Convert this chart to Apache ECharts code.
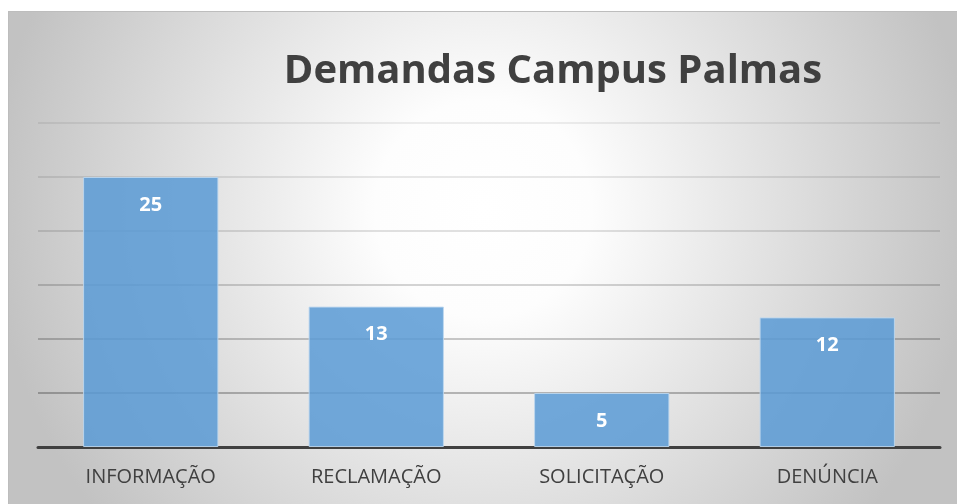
<!DOCTYPE html>
<html>
<head>
<meta charset="utf-8">
<script src="https://cdn.jsdelivr.net/npm/echarts@6/dist/echarts.min.js"></script>
<style>
  html, body { margin: 0; padding: 0; background: #fff; }
  #chart {
    position: absolute; left: 8px; top: 11px; width: 949px; height: 493px;
    border-top: 1px solid #bdbdbd; border-left: 1px solid #bdbdbd; box-sizing: border-box;
  }
</style>
</head>
<body>
<div id="chart"></div>
<script>
const categories = ['INFORMAÇÃO', 'RECLAMAÇÃO', 'SOLICITAÇÃO', 'DENÚNCIA'];
const values = [25, 13, 5, 12];
const titleText = 'Demandas Campus Palmas';

const chart = echarts.init(document.getElementById('chart'), null, { renderer: 'canvas' });

// grid lines fade toward the top, like the original
const gridColors = [
  'rgba(0,0,0,0)',
  'rgba(0,0,0,0.34)',
  'rgba(0,0,0,0.28)',
  'rgba(0,0,0,0.22)',
  'rgba(0,0,0,0.16)',
  'rgba(0,0,0,0.12)',
  'rgba(0,0,0,0.09)',
];

chart.setOption({
  backgroundColor: {
    type: 'radial', x: 0.5, y: 0.4, r: 1.0,
    colorStops: [
      { offset: 0, color: '#ffffff' },
      { offset: 0.22, color: '#fdfdfd' },
      { offset: 1, color: '#c2c2c2' },
    ],
  },
  textStyle: { fontFamily: '"Open Sans", sans-serif' },
  title: {
    text: titleText,
    left: 539,
    top: 35,
    textAlign: 'center',
    textStyle: { color: '#404040', fontSize: 40, fontWeight: 'bold', fontFamily: '"Open Sans", sans-serif' },
  },
  grid: { left: 29, right: 17, top: 111, bottom: 57, containLabel: false },
  xAxis: {
    type: 'category',
    data: categories,
    axisLine: { lineStyle: { color: '#404040', width: 3 } },
    axisTick: { show: false },
    axisLabel: { color: '#404040', fontSize: 20, margin: 20 },
  },
  yAxis: {
    type: 'value',
    min: 0, max: 30, interval: 5,
    axisLabel: { show: false },
    axisLine: { show: false },
    axisTick: { show: false },
    splitLine: { lineStyle: { color: gridColors, width: 1.5 } },
  },
  series: [{
    type: 'bar',
    data: values,
    barWidth: '60%',
    itemStyle: { color: 'rgba(91,155,213,0.86)', borderColor: 'rgba(189,215,238,0.9)', borderWidth: 1 },
    label: {
      show: true, position: 'insideTop', distance: 18,
      color: '#ffffff', fontSize: 20, fontWeight: 'bold',
    },
  }],
});
</script>
</body>
</html>
